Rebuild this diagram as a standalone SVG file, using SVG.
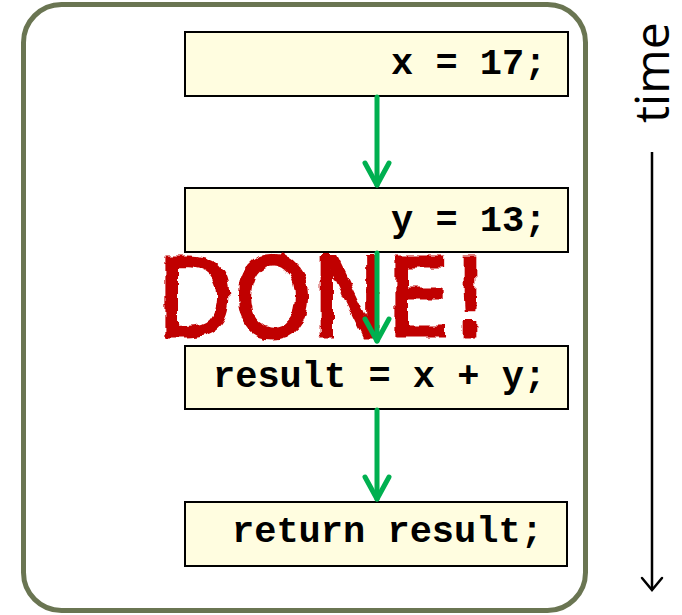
<svg xmlns="http://www.w3.org/2000/svg" width="682" height="615" viewBox="0 0 682 615">
  <style>
    .box { fill: #FFFDE0; stroke: #000; stroke-width: 2; }
    .code { font-family: "Liberation Mono", "Courier New", monospace; font-weight: bold; font-size: 37px; fill: #000; }
    .flow { stroke: #00B050; stroke-width: 5; fill: none; stroke-linecap: round; }
    .time { stroke: #000; stroke-width: 2.5; fill: none; }
  </style>
  <defs>
    <marker id="chev" markerUnits="userSpaceOnUse" orient="auto" refX="0" refY="0" markerWidth="40" markerHeight="40" overflow="visible">
      <path d="M -22 -12 L 0 0 L -22 12" fill="none" stroke="#00B050" stroke-width="5" stroke-linecap="round" stroke-linejoin="round"/>
    </marker>
    <marker id="chevT" markerUnits="userSpaceOnUse" orient="auto" refX="0" refY="0" markerWidth="30" markerHeight="30" overflow="visible">
      <path d="M -12 -10 L 0 0 L -12 10" fill="none" stroke="#000" stroke-width="2.5" stroke-linecap="round" stroke-linejoin="miter"/>
    </marker>
    <filter id="rough" x="-10%" y="-20%" width="120%" height="140%">
      <feTurbulence type="fractalNoise" baseFrequency="0.09" numOctaves="2" seed="3" result="n"/>
      <feDisplacementMap in="SourceGraphic" in2="n" scale="7" xChannelSelector="R" yChannelSelector="G"/>
    </filter>
  </defs>

  <g id="frame">
    <rect x="23.5" y="4.5" width="562" height="606" rx="38" ry="38" fill="none" stroke="#6A7552" stroke-width="5"/>
  </g>

  <g id="n1">
    <rect class="box" x="185" y="32" width="383" height="64"/>
    <text class="code" x="391" y="74">x = 17;</text>
  </g>
  <g id="n2">
    <rect class="box" x="185" y="188" width="383" height="64"/>
    <text class="code" x="391" y="231">y = 13;</text>
  </g>
  <g id="n3">
    <rect class="box" x="185" y="346" width="383" height="63"/>
    <text class="code" x="213" y="387">result = x + y;</text>
  </g>
  <g id="n4">
    <rect class="box" x="185" y="502" width="382" height="64"/>
    <text class="code" x="232" y="542">return result;</text>
  </g>

  <g id="done">
    <text x="157" y="336" font-family="DejaVu Sans, sans-serif" font-size="108" fill="#C00000" stroke="#C00000" stroke-width="3" textLength="333" lengthAdjust="spacingAndGlyphs" filter="url(#rough)">DONE!</text>
  </g>

  <g id="connectors">
    <line class="flow" x1="377" y1="97" x2="377" y2="185" marker-end="url(#chev)"/>
    <line class="flow" x1="377" y1="253" x2="377" y2="341" marker-end="url(#chev)"/>
    <line class="flow" x1="377" y1="410" x2="377" y2="499" marker-end="url(#chev)"/>
  </g>

  <g id="timeaxis">
    <text transform="translate(669,123) rotate(-90)" font-family="Open Sans, sans-serif" font-size="48" fill="#000">time</text>
    <line class="time" x1="652" y1="152" x2="652" y2="590" marker-end="url(#chevT)"/>
  </g>
</svg>
